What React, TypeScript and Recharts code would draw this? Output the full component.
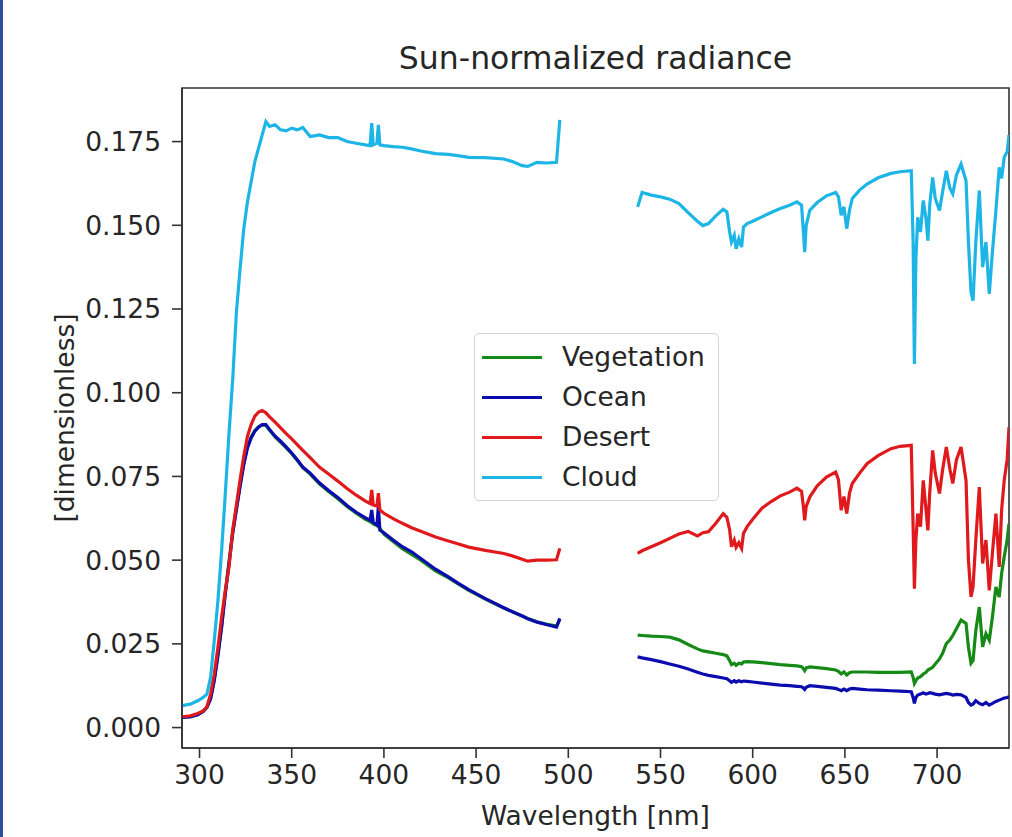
import { Line, LineChart, ReferenceArea, XAxis, YAxis } from "recharts";

// wavelength grid [nm], left band (UV/blue) and right band (visible/NIR)
const wlLeft = [
  290, 295, 299, 302, 304, 306, 308, 310, 312, 314,
  316, 318, 320, 322, 324, 326, 328, 330, 332, 334,
  336, 338, 341, 344, 347, 350, 353, 356, 360, 365,
  370, 375, 380, 385, 390, 392.5, 393.4, 394.2, 396.2, 397,
  397.8, 400, 405, 410, 415, 420, 428, 435, 440, 446,
  455, 465, 470, 475, 478, 483, 488, 493.6, 495.4,
];
const wlRight = [
  537.6, 540, 545, 550, 555, 560, 565, 570, 573, 576,
  580, 584, 586, 587.5, 588.5, 590, 591, 592.5, 594, 595,
  597, 600, 605, 610, 615, 620, 624, 626.5, 627.5, 628.2,
  629, 631, 635, 640, 645, 646.5, 648, 649.5, 651, 652.5,
  654, 658, 662, 668, 675, 680, 686, 687, 687.7, 688.5,
  689.5, 691, 692.5, 694, 695, 696, 697.6, 699, 701.3, 703,
  705, 707, 708.5, 710.5, 713, 715.7, 717, 718.4, 719.5, 721,
  722.9, 724.7, 726.5, 728.3, 730, 731.9, 733.7, 735, 736.4, 738,
  739,
];
const GAP_WL = 516;

const vegetationLeft = [
  0.0031, 0.0033, 0.0039, 0.0049, 0.0061, 0.0088, 0.0145, 0.022, 0.0305, 0.0405,
  0.0495, 0.0585, 0.0655, 0.0725, 0.079, 0.0838, 0.0868, 0.0887, 0.0898, 0.0904,
  0.0902, 0.0888, 0.0868, 0.0852, 0.0835, 0.0818, 0.0798, 0.0776, 0.0757, 0.0728,
  0.0705, 0.0683, 0.066, 0.064, 0.0622, 0.0615, 0.0612, 0.0608, 0.0603, 0.06,
  0.0595, 0.0578, 0.0556, 0.0534, 0.0517, 0.05, 0.0468, 0.0447, 0.043, 0.041,
  0.0384, 0.0357, 0.0345, 0.0333, 0.0326, 0.0316, 0.0309, 0.0303, 0.0322,
];
const oceanLeft = [
  0.003, 0.0032, 0.0038, 0.0048, 0.006, 0.0085, 0.014, 0.0215, 0.03, 0.04,
  0.049, 0.058, 0.065, 0.072, 0.0785, 0.0835, 0.0865, 0.0885, 0.0897, 0.0905,
  0.0905, 0.089, 0.087, 0.0855, 0.0838, 0.082, 0.08, 0.0778, 0.076, 0.0731,
  0.0708, 0.0687, 0.0663, 0.0643, 0.0626, 0.0619, 0.065, 0.0612, 0.0605, 0.066,
  0.059, 0.0582, 0.056, 0.054, 0.0525, 0.0505, 0.0473, 0.045, 0.0432, 0.0412,
  0.0385, 0.0358, 0.0345, 0.0333, 0.0325, 0.0315, 0.0308, 0.03, 0.0326,
];
const desertLeft = [
  0.0032, 0.0035, 0.0042, 0.005, 0.0062, 0.01, 0.016, 0.024, 0.033, 0.041,
  0.048, 0.059, 0.0665, 0.074, 0.081, 0.087, 0.0905, 0.093, 0.0942, 0.0947,
  0.094, 0.0928, 0.0912, 0.0895, 0.0878, 0.0862, 0.0845, 0.0828, 0.0806, 0.0778,
  0.0757, 0.0736, 0.0714, 0.0694, 0.0676, 0.0669, 0.071, 0.0665, 0.0662, 0.07,
  0.065, 0.064, 0.0624, 0.061, 0.0597, 0.0586, 0.0569, 0.0557, 0.0549, 0.0539,
  0.0529, 0.052, 0.0512, 0.0503, 0.0497, 0.05, 0.05, 0.0501, 0.0535,
];
const cloudLeft = [
  0.0065, 0.007, 0.008, 0.009, 0.01, 0.015, 0.026, 0.038, 0.053, 0.07,
  0.088, 0.104, 0.124, 0.137, 0.149, 0.157, 0.163, 0.169, 0.173, 0.177,
  0.181, 0.1795, 0.18, 0.1785, 0.1782, 0.179, 0.1785, 0.1792, 0.1765, 0.177,
  0.1762, 0.1762, 0.175, 0.1745, 0.174, 0.1738, 0.1805, 0.174, 0.1745, 0.18,
  0.174, 0.1738, 0.1735, 0.1733, 0.1728, 0.1722, 0.1714, 0.1712, 0.1708, 0.1703,
  0.1702, 0.1698, 0.169, 0.1678, 0.1676, 0.1688, 0.1686, 0.1688, 0.1815,
];

const vegetationRight = [
  0.0276, 0.0275, 0.0273, 0.0272, 0.027, 0.0262, 0.0248, 0.0235, 0.0229, 0.0226,
  0.0222, 0.0218, 0.0214, 0.02, 0.0188, 0.0192, 0.0186, 0.0192, 0.019, 0.0196,
  0.0197, 0.0196, 0.0194, 0.0191, 0.0188, 0.0186, 0.0184, 0.0182, 0.0176, 0.017,
  0.0178, 0.0181, 0.0179, 0.0176, 0.0172, 0.0168, 0.016, 0.0166, 0.0157, 0.0164,
  0.0166, 0.0166, 0.0166, 0.0165, 0.0165, 0.0165, 0.0166, 0.015, 0.0132, 0.014,
  0.0148, 0.0152, 0.016, 0.0165, 0.0172, 0.0175, 0.018, 0.019, 0.0205, 0.0222,
  0.0251, 0.0262, 0.0275, 0.0295, 0.0321, 0.0311, 0.024, 0.0192, 0.02, 0.029,
  0.036, 0.0241, 0.028, 0.0261, 0.033, 0.042, 0.039, 0.046, 0.051, 0.056,
  0.0609,
];
const oceanRight = [
  0.0211, 0.0208, 0.0203, 0.0197, 0.019, 0.0183, 0.0175, 0.0165, 0.016, 0.0156,
  0.0152, 0.0148, 0.0146, 0.014, 0.0135, 0.014, 0.0136, 0.014, 0.0137, 0.0139,
  0.0138, 0.0136, 0.0133, 0.013, 0.0127, 0.0125, 0.0123, 0.0122, 0.0118, 0.0114,
  0.012, 0.0125, 0.0123, 0.012, 0.0117, 0.0114, 0.011, 0.0115, 0.011, 0.0115,
  0.0117, 0.0115, 0.0113, 0.0112, 0.011, 0.0109, 0.0107, 0.009, 0.0072, 0.009,
  0.0097, 0.01, 0.0104, 0.01, 0.0102, 0.0104, 0.0102, 0.01, 0.0098, 0.01,
  0.0102, 0.01, 0.0097, 0.0099, 0.0098, 0.009, 0.0075, 0.0067, 0.007, 0.008,
  0.0072, 0.0068, 0.0075, 0.0067, 0.0072, 0.0078, 0.0082, 0.0085, 0.0088, 0.009,
  0.0092,
];
const desertRight = [
  0.052, 0.0528, 0.054, 0.0552, 0.0565, 0.0578, 0.0586, 0.0572, 0.0582, 0.0585,
  0.061, 0.0639, 0.0628, 0.059, 0.054, 0.056, 0.0538, 0.0552, 0.0535, 0.058,
  0.06, 0.0622, 0.0655, 0.0675, 0.0692, 0.0703, 0.0715, 0.0705, 0.066, 0.0619,
  0.066, 0.0689, 0.0722, 0.0748, 0.0763, 0.074, 0.0649, 0.069, 0.0639, 0.07,
  0.0729, 0.076, 0.0788, 0.0812, 0.0833, 0.084, 0.0843, 0.06, 0.0415, 0.056,
  0.0639, 0.06, 0.0738, 0.065, 0.0589, 0.07, 0.0828, 0.076, 0.0699, 0.077,
  0.0838, 0.077, 0.0729, 0.08, 0.0838, 0.0738, 0.05, 0.039, 0.042, 0.056,
  0.0718, 0.049, 0.056, 0.041, 0.052, 0.0639, 0.048, 0.065, 0.0738, 0.08,
  0.0897,
];
const cloudRight = [
  0.1555, 0.1598, 0.159, 0.1585, 0.1578, 0.1565, 0.1538, 0.1512, 0.1499, 0.1505,
  0.1528, 0.1548, 0.154, 0.148, 0.145, 0.147, 0.143, 0.146, 0.1435, 0.1495,
  0.1505, 0.1512, 0.1525, 0.1538, 0.155, 0.156, 0.157, 0.156, 0.148, 0.142,
  0.15, 0.1545, 0.1568, 0.1588, 0.1598, 0.1585, 0.153, 0.1555, 0.149, 0.1545,
  0.158, 0.1605, 0.1623, 0.1642, 0.1655, 0.166, 0.1663, 0.145, 0.1086, 0.14,
  0.1524, 0.148, 0.1574, 0.152, 0.1454, 0.156, 0.1643, 0.158, 0.1544, 0.16,
  0.1663, 0.161, 0.1594, 0.165, 0.1683, 0.1633, 0.145, 0.13, 0.1275, 0.145,
  0.1604, 0.1375, 0.145, 0.1295, 0.142, 0.1544, 0.1673, 0.164, 0.1703, 0.172,
  0.177,
];

const xTicks = [300, 350, 400, 450, 500, 550, 600, 650, 700];
const yTicks = [0, 0.025, 0.05, 0.075, 0.1, 0.125, 0.15, 0.175];

const XMIN = 290.5;
const XMAX = 739;
const YMIN = -0.0061;
const YMAX = 0.191;

const series = [
  { key: "vegetation", name: "Vegetation", color: "#168a16" },
  { key: "ocean", name: "Ocean", color: "#0c0cae" },
  { key: "desert", name: "Desert", color: "#e01a1c" },
  { key: "cloud", name: "Cloud", color: "#1db5e6" },
];

const rows = [
  ...wlLeft.map((wl, i) => ({
    wl,
    vegetation: vegetationLeft[i],
    ocean: oceanLeft[i],
    desert: desertLeft[i],
    cloud: cloudLeft[i],
  })),
  { wl: GAP_WL, vegetation: null, ocean: null, desert: null, cloud: null },
  ...wlRight.map((wl, i) => ({
    wl,
    vegetation: vegetationRight[i],
    ocean: oceanRight[i],
    desert: desertRight[i],
    cloud: cloudRight[i],
  })),
];

const FONT = "'DejaVu Sans', sans-serif";
const TEXT = "#262626";
const AXIS = "#333";

function XLabel({ viewBox }: any) {
  return (
    <text x={viewBox.x + viewBox.width / 2} y={viewBox.y + 77} textAnchor="middle" fontSize={26.5} fill={TEXT}>
      Wavelength [nm]
    </text>
  );
}

function YLabel() {
  return (
    <text
      x={64}
      y={418}
      textAnchor="middle"
      dominantBaseline="central"
      transform="rotate(-90, 64, 418)"
      fontSize={26.5}
      fill={TEXT}
    >
      [dimensionless]
    </text>
  );
}

function LegendBox() {
  return (
    <div
      style={{
        position: "absolute",
        left: 474,
        top: 333,
        width: 245,
        height: 168,
        boxSizing: "border-box",
        border: "1.5px solid #d4d4d4",
        borderRadius: 5,
        background: "rgba(255,255,255,0.85)",
        paddingTop: 3,
      }}
    >
      {series.map((s) => (
        <div key={s.key} style={{ display: "flex", alignItems: "center", height: 40 }}>
          <div style={{ marginLeft: 7, width: 60, height: 3, background: s.color }} />
          <span style={{ marginLeft: 20, fontSize: 26.5, color: TEXT, lineHeight: "40px" }}>{s.name}</span>
        </div>
      ))}
    </div>
  );
}

export default function App() {
  return (
    <div
      style={{
        position: "relative",
        width: 1012,
        height: 837,
        background: "#fff",
        fontFamily: FONT,
        overflow: "hidden",
      }}
    >
      <style>{"html, body { margin: 0; padding: 0; overflow: hidden; }"}</style>
      <div style={{ position: "absolute", left: 0, top: 0, width: 3, height: 837, background: "#2c4c9c" }} />
      <div
        style={{
          position: "absolute",
          left: 182,
          width: 827,
          top: 40,
          textAlign: "center",
          fontSize: 31.5,
          color: TEXT,
        }}
      >
        Sun-normalized radiance
      </div>
      <LineChart width={1012} height={837} data={rows} margin={{ top: 88, right: 3, bottom: 19, left: 102 }}>
        <XAxis
          dataKey="wl"
          type="number"
          domain={[XMIN, XMAX]}
          allowDataOverflow
          ticks={xTicks}
          interval={0}
          height={70}
          tickSize={10}
          tickMargin={7}
          stroke={AXIS}
          strokeWidth={1.6}
          tick={{ fill: TEXT, fontSize: 26.5 }}
          label={<XLabel />}
        />
        <YAxis
          type="number"
          domain={[YMIN, YMAX]}
          allowDataOverflow
          ticks={yTicks}
          interval={0}
          width={80}
          tickSize={10}
          tickMargin={11}
          stroke={AXIS}
          strokeWidth={1.6}
          tick={{ fill: TEXT, fontSize: 26.5 }}
          tickFormatter={(v: number) => v.toFixed(3)}
          label={<YLabel />}
        />
        <ReferenceArea x1={XMIN} x2={XMAX} y1={YMIN} y2={YMAX} fill="none" stroke={AXIS} strokeWidth={1.6} />
        {series.map((s) => (
          <Line
            key={s.key}
            type="linear"
            dataKey={s.key}
            name={s.name}
            stroke={s.color}
            strokeWidth={3.2}
            dot={false}
            activeDot={false}
            isAnimationActive={false}
          />
        ))}
      </LineChart>
      <LegendBox />
    </div>
  );
}
